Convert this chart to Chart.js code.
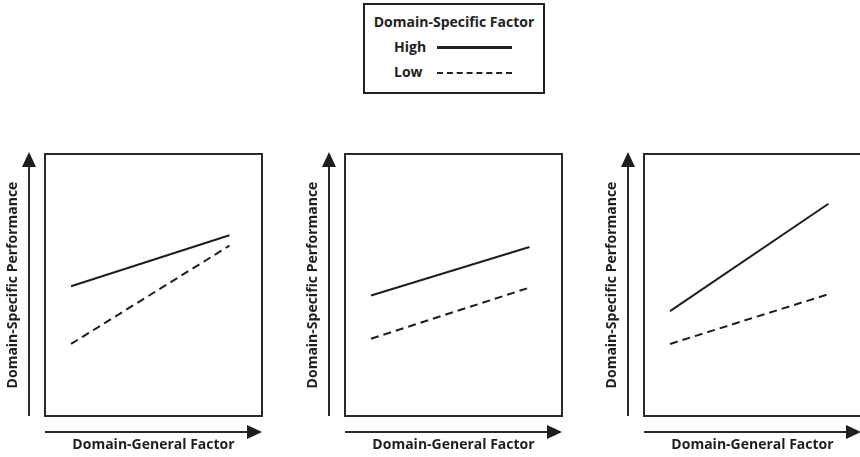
<!DOCTYPE html>
<html>
<head>
<meta charset="utf-8">
<script src="https://cdn.jsdelivr.net/npm/chart.js@4.4.0/dist/chart.umd.min.js"></script>
<style>
  html, body { margin: 0; padding: 0; background: #fff; overflow: hidden; }
  body { width: 860px; height: 457px; position: relative; font-family: "Open Sans", sans-serif; }
  .panel { position: absolute; top: 140px; width: 290px; height: 317px; }
  #legend {
    position: absolute; left: 363px; top: 3px; width: 182px; height: 91px;
    border: 2px solid #222; box-sizing: border-box; color: #222;
    font-weight: bold; font-size: 14px;
  }
  #legend .title { position: absolute; left: 0; right: 0; top: 7px; line-height: 20px; text-align: center; }
  #legend .row { position: absolute; left: 29px; height: 16px; line-height: 16px; }
  #legend .swatch { position: absolute; left: 43px; top: 7px; width: 75px; border-top: 3px solid #222; }
  #legend .swatch.dashed { border-top: 2px dashed #222; top: 8px; }
</style>
</head>
<body>
<div id="legend"></div>
<div class="panel" style="left:0px"><canvas id="panelA"></canvas></div>
<div class="panel" style="left:300px"><canvas id="panelB"></canvas></div>
<div class="panel" style="left:599px"><canvas id="panelC"></canvas></div>

<script>
'use strict'

// Chart data (axis runs 0-10 with no ticks)
const legendTitle = 'Domain-Specific Factor';
const levelLabels = ['High', 'Low'];
const xTitle = 'Domain-General Factor';
const yTitle = 'Domain-Specific Performance';

const generalFactor = [1.2, 8.5];

const panelAHigh = [4.95, 6.9];
const panelALow = [2.75, 6.5];

const panelBHigh = [4.6, 6.45];
const panelBLow = [2.95, 4.9];

const panelCHigh = [4.0, 8.1];
const panelCLow = [2.75, 4.65];

const ink = '#1e1e1e';
const titleFont = { family: '"Open Sans", sans-serif', size: 14, weight: 'bold', lineHeight: 1.2 };

// Legend (html, built from the same labels)
function buildLegend() {
    const legend = document.getElementById('legend');
    let html = '<div class="title">' + legendTitle + '</div>';
    levelLabels.forEach((label, i) => {
        const top = 34 + i * 25;
        html += '<div class="row" style="top:' + top + 'px">' + label +
            '<span class="swatch' + (i === 1 ? ' dashed' : '') + '"></span></div>';
    });
    legend.innerHTML = html;
}

// Frame round the plot area plus the two axis arrows
const frameAndArrows = {
    id: 'frameAndArrows',
    afterDraw(chart) {
        const { ctx, chartArea: a } = chart;
        ctx.save();
        ctx.strokeStyle = '#2a2a2a';
        ctx.fillStyle = ink;
        ctx.lineWidth = 2;
        ctx.strokeRect(a.left, a.top, a.right - a.left, a.bottom - a.top);

        // vertical arrow
        const ax = a.left - 16;
        ctx.beginPath();
        ctx.moveTo(ax, a.bottom);
        ctx.lineTo(ax, a.top + 12);
        ctx.stroke();
        ctx.beginPath();
        ctx.moveTo(ax, a.top - 2);
        ctx.lineTo(ax - 7, a.top + 13);
        ctx.lineTo(ax + 7, a.top + 13);
        ctx.closePath();
        ctx.fill();

        // horizontal arrow
        const ay = a.bottom + 16;
        ctx.beginPath();
        ctx.moveTo(a.left, ay);
        ctx.lineTo(a.right - 12, ay);
        ctx.stroke();
        ctx.beginPath();
        ctx.moveTo(a.right, ay);
        ctx.lineTo(a.right - 15, ay - 7);
        ctx.lineTo(a.right - 15, ay + 7);
        ctx.closePath();
        ctx.fill();
        ctx.restore();
    }
};

function makePanel(canvasId, highValues, lowValues) {
    const ctx = document.getElementById(canvasId).getContext('2d');
    const toPoints = values => values.map((v, i) => ({ x: generalFactor[i], y: v }));
    return new Chart(ctx, {
        type: 'line',
        data: {
            datasets: [
                {
                    label: levelLabels[0],
                    data: toPoints(highValues),
                    borderColor: ink,
                    borderWidth: 2,
                    pointRadius: 0,
                    fill: false
                },
                {
                    label: levelLabels[1],
                    data: toPoints(lowValues),
                    borderColor: ink,
                    borderWidth: 2,
                    borderDash: [8, 5],
                    pointRadius: 0,
                    fill: false
                }
            ]
        },
        options: {
            responsive: true,
            maintainAspectRatio: false,
            animation: false,
            layout: { padding: { left: 0, right: 28, top: 14, bottom: 0 } },
            plugins: {
                legend: { display: false },
                tooltip: { enabled: false }
            },
            scales: {
                x: {
                    type: 'linear',
                    min: 0,
                    max: 10,
                    grid: { display: false, drawTicks: false },
                    border: { display: false },
                    ticks: { display: false },
                    title: {
                        display: true,
                        text: xTitle,
                        color: ink,
                        font: titleFont,
                        padding: { top: 20.6, bottom: 3.6 }
                    }
                },
                y: {
                    min: 0,
                    max: 10,
                    grid: { display: false, drawTicks: false },
                    border: { display: false },
                    ticks: { display: false },
                    title: {
                        display: true,
                        text: yTitle,
                        color: ink,
                        font: titleFont,
                        padding: { top: 4.6, bottom: 23.6 }
                    }
                }
            }
        },
        plugins: [frameAndArrows]
    });
}

buildLegend();
makePanel('panelA', panelAHigh, panelALow);
makePanel('panelB', panelBHigh, panelBLow);
makePanel('panelC', panelCHigh, panelCLow);
</script>
</body>
</html>
